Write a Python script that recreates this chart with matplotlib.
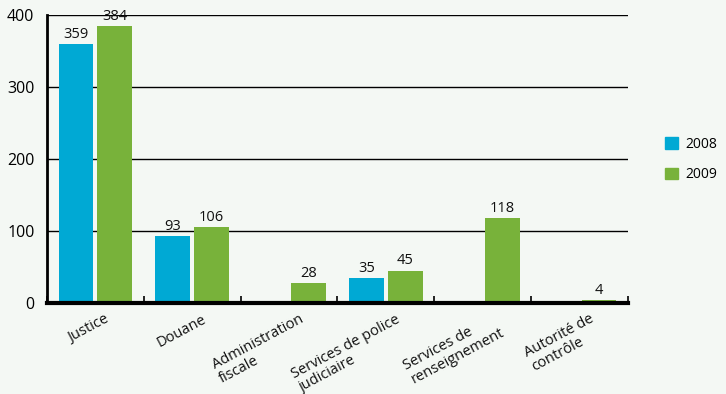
import matplotlib.pyplot as plt
import numpy as np

categories = ['Justice', 'Douane', 'Administration\nfiscale', 'Services de police\njudiciaire',
              'Services de\nrenseignement', 'Autorité de\ncontrôle']
values_2008 = [359, 93, 0, 35, 0, 0]
values_2009 = [384, 106, 28, 45, 118, 4]
series_labels = ['2008', '2009']

BG = '#f4f8f4'
BLUE = '#00a9d4'
GREEN = '#78b23a'

plt.rcParams['font.family'] = ['Open Sans', 'DejaVu Sans']

fig = plt.figure(figsize=(7.26, 3.94), dpi=100, facecolor=BG)
ax = fig.add_axes([0.0647, 0.231, 0.8003, 0.731], facecolor=BG)

x = np.arange(len(categories))
w = 0.36
off = 0.2
b1 = ax.bar(x - off, values_2008, w, color=BLUE, label=series_labels[0], zorder=3)
b2 = ax.bar(x + off, values_2009, w, color=GREEN, label=series_labels[1], zorder=3)

for rects, vals in ((b1, values_2008), (b2, values_2009)):
    for r, v in zip(rects, vals):
        if v > 0:
            ax.text(r.get_x() + r.get_width() / 2, v + 3, str(v), ha='center', va='bottom',
                    fontsize=10.5, color='#111111', zorder=4)

ax.set_xlim(-0.5, len(categories) - 0.5)
ax.set_ylim(0, 400)
ax.set_yticks([0, 100, 200, 300, 400])
ax.tick_params(axis='y', length=0, labelsize=11.5, pad=9)
ax.grid(axis='y', color='black', linewidth=1, zorder=1)

# category boundary ticks pointing inward
ax.set_xticks(np.arange(len(categories) + 1) - 0.5)
ax.set_xticklabels([])
ax.tick_params(axis='x', direction='in', length=5, width=1.2, color='black')
for i, lab in enumerate(categories):
    ax.text(i + 0.1, -12, lab, rotation=28, rotation_mode='anchor', ha='right', va='top',
            fontsize=10.5, color='#111111', multialignment='left', linespacing=1.05)

for s in ['top', 'right']:
    ax.spines[s].set_visible(False)
ax.spines['left'].set_linewidth(2)
ax.spines['bottom'].set_linewidth(3)
ax.spines['bottom'].set_zorder(5)

handles = [plt.Rectangle((0, 0), 1, 1, color=BLUE), plt.Rectangle((0, 0), 1, 1, color=GREEN)]
fig.legend(handles, series_labels, loc='center left', bbox_to_anchor=(0.916, 0.595),
           frameon=False, fontsize=10, handlelength=0.9, handleheight=0.9,
           labelspacing=1.1, handletextpad=0.6, borderaxespad=0, borderpad=0)

fig.savefig('out.png', dpi=100, facecolor=BG)
